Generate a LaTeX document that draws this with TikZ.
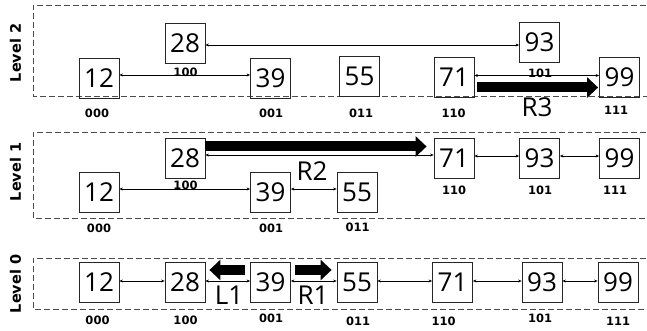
\documentclass[tikz,border=0pt]{standalone}
\usepackage{fontspec}
\setmainfont{Open Sans}
\newfontfamily\codefont{DejaVu Sans}
\usetikzlibrary{arrows.meta}
\tikzset{
  num/.style={draw=black!85, line width=0.8pt, minimum width=40pt, minimum height=40pt,
    inner sep=0pt, font=\fontsize{26}{26}\selectfont},
  code/.style={font=\codefont\bfseries\fontsize{11.5}{11.5}\selectfont, inner sep=0pt},
  big/.style={font=\fontsize{26}{26}\selectfont, inner sep=0pt},
  lvl/.style={font=\codefont\bfseries\fontsize{14.5}{14.5}\selectfont, rotate=90, inner sep=0pt},
  link/.style={line width=0.6pt, {Stealth[length=3.5pt,width=3pt]}-{Stealth[length=3.5pt,width=3pt]}},
  bigarrow/.style={line width=10pt, -{Triangle[length=11pt,width=20pt]}},
  lane/.style={line width=0.8pt, draw=black!70, dash pattern=on 6pt off 3pt},
}
\begin{document}
\begin{tikzpicture}[x=1pt,y=-1pt]
\useasboundingbox (0,0) rectangle (647,331);

% lanes
\draw[lane] (700,5) -| (33,96) -- (700,96);
\draw[lane] (700,132) -| (33,218) -- (700,218);
\draw[lane] (700,258) -| (33,309) -- (700,309);

\node[lvl] at (15.5,53) {Level 2};
\node[lvl] at (15.5,172) {Level 1};
\node[lvl] at (15.5,284) {Level 0};

% ---- level 2
\node[num] (t12) at (99,78) {12};
\node[num] (t28) at (185,43.5) {28};
\node[num] (t39) at (270.5,78) {39};
\node[num] (t55) at (359.5,76) {55};
\node[num] (t71) at (454,77.5) {71};
\node[num] (t93) at (539.5,42) {93};
\node[num] (t99) at (619.5,77) {99};

\draw[link] ([yshift=3pt]t12.east) -- ([yshift=3pt]t12.east -| t39.west);
\draw[link] ([yshift=-1.5pt]t28.east) -- ([yshift=-1.5pt]t28.east -| t93.west);
\draw[link] ([yshift=2pt]t71.east) -- ([yshift=2pt]t71.east -| t99.west);
\draw[bigarrow] ([xshift=3pt,yshift=-10pt]t71.east) -- ([xshift=-1pt,yshift=-10pt]t71.east -| t99.west);

\node[code] at (97,113.5) {000};
\node[code] at (185.5,72) {100};
\node[code] at (271,113.5) {001};
\node[code] at (361,113) {011};
\node[code] at (453.5,113.5) {110};
\node[code] at (540,73) {101};
\node[code] at (616,110.5) {111};
\node[big] at (537,107.5) {R3};

% ---- level 1
\node[num] (m12) at (99,192) {12};
\node[num] (m28) at (185,158) {28};
\node[num] (m39) at (270.5,192) {39};
\node[num] (m55) at (357,192) {55};
\node[num] (m71) at (454,158) {71};
\node[num] (m93) at (539.5,158) {93};
\node[num] (m99) at (619.5,158) {99};

\draw[link] ([yshift=3pt]m12.east) -- ([yshift=3pt]m12.east -| m39.west);
\draw[link] ([yshift=3pt]m39.east) -- ([yshift=3pt]m39.east -| m55.west);
\draw[link] ([yshift=3pt]m28.east) -- ([yshift=3pt]m28.east -| m71.west);
\draw[link] ([yshift=2pt]m71.east) -- ([yshift=2pt]m71.east -| m93.west);
\draw[link] ([yshift=2pt]m93.east) -- ([yshift=2pt]m93.east -| m99.west);
\draw[bigarrow] ([yshift=11.5pt]m28.east) -- ([xshift=-7pt,yshift=11.5pt]m28.east -| m71.west);

\node[code] at (99,228) {000};
\node[code] at (185.5,185) {100};
\node[code] at (271,228) {001};
\node[code] at (357.5,227.5) {011};
\node[code] at (454,190) {110};
\node[code] at (540,190) {101};
\node[code] at (615,190) {111};
\node[big] at (312,171) {R2};

% ---- level 0
\node[num] (b12) at (99,282) {12};
\node[num] (b28) at (185,282) {28};
\node[num] (b39) at (270.5,282) {39};
\node[num] (b55) at (357,282) {55};
\node[num] (b71) at (452.5,282) {71};
\node[num] (b93) at (542,282) {93};
\node[num] (b99) at (618,282) {99};

\draw[link] ([yshift=1pt]b12.east) -- ([yshift=1pt]b12.east -| b28.west);
\draw[link] ([yshift=1pt]b28.east) -- ([yshift=1pt]b28.east -| b39.west);
\draw[link] ([yshift=1pt]b39.east) -- ([yshift=1pt]b39.east -| b55.west);
\draw[link] ([yshift=1pt]b55.east) -- ([yshift=1pt]b55.east -| b71.west);
\draw[link] ([yshift=1pt]b71.east) -- ([yshift=1pt]b71.east -| b93.west);
\draw[link] ([yshift=1pt]b93.east) -- ([yshift=1pt]b93.east -| b99.west);
\draw[bigarrow] ([xshift=-5.5pt,yshift=12pt]b39.west) -- ([xshift=4pt,yshift=12pt]b28.east);
\draw[bigarrow] ([xshift=4.5pt,yshift=12pt]b39.east) -- ([xshift=-5pt,yshift=12pt]b55.west);

\node[code] at (97.5,320.5) {000};
\node[code] at (185.5,320) {100};
\node[code] at (271,318) {001};
\node[code] at (358,321) {011};
\node[code] at (443.5,321) {110};
\node[code] at (540,318) {101};
\node[code] at (618,321) {111};
\node[big] at (229,295) {L1};
\node[big] at (313,295) {R1};
\end{tikzpicture}
\end{document}
